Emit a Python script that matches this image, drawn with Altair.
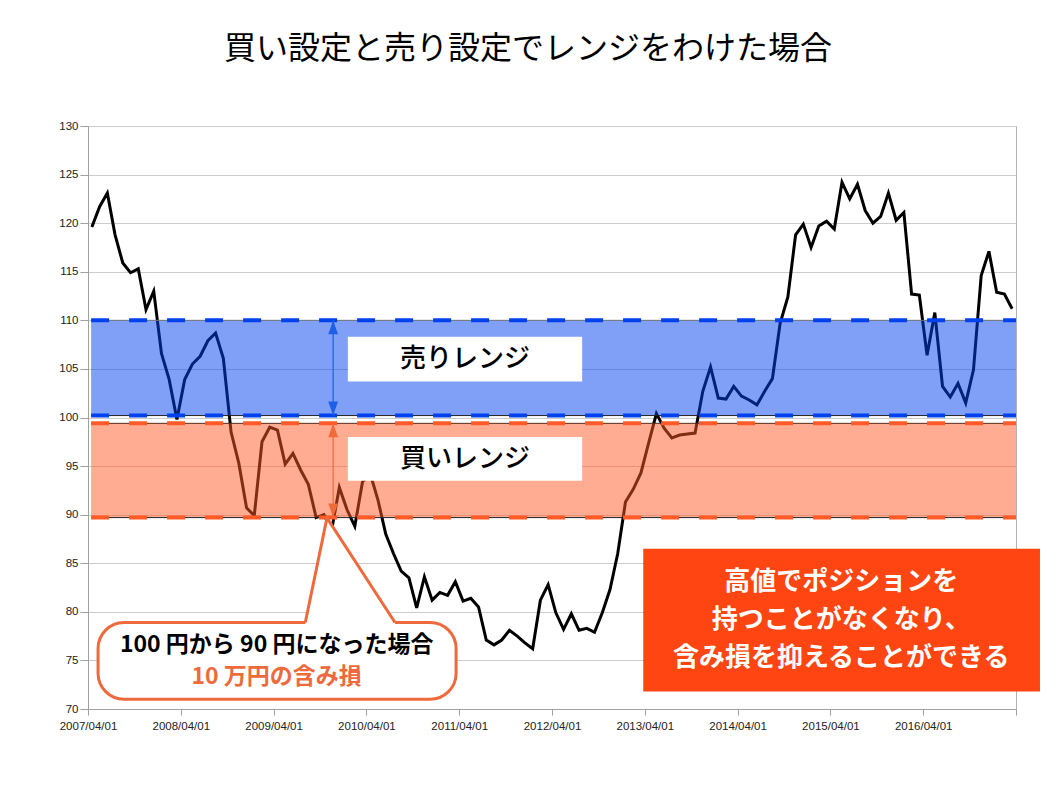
import altair as alt
import pandas as pd

# ---- data (monthly, 2007/04 .. 2017/03) ----
rate = [119.6, 121.7, 123.1, 118.8, 115.9, 114.9, 115.3, 111.1, 113.0, 106.6,
        103.9, 99.8, 103.9, 105.5, 106.3, 107.9, 108.7, 106.1, 98.5, 95.3,
        90.7, 89.9, 97.5, 99.0, 98.7, 95.2, 96.3, 94.6, 93.1, 89.7,
        90.0, 88.4, 92.8, 90.5, 88.8, 93.4, 94.2, 91.5, 88.0, 86.0,
        84.2, 83.5, 80.4, 83.6, 81.2, 82.0, 81.7, 83.1, 81.1, 81.4,
        80.5, 77.1, 76.6, 77.1, 78.1, 77.5, 76.8, 76.2, 81.2, 82.8,
        79.9, 78.2, 79.8, 78.1, 78.3, 77.9, 79.9, 82.3, 86.0, 91.3,
        92.6, 94.3, 97.4, 100.4, 98.9, 97.9, 98.2, 98.3, 98.4, 102.7,
        105.2, 102.0, 101.9, 103.2, 102.2, 101.8, 101.3, 102.7, 104.0, 109.7,
        112.4, 118.8, 119.9, 117.5, 119.7, 120.2, 119.4, 124.2, 122.5, 124.0,
        121.3, 120.0, 120.7, 123.1, 120.3, 121.1, 112.7, 112.6, 106.4, 110.8,
        103.2, 102.1, 103.5, 101.5, 104.9, 114.6, 117.1, 112.9, 112.7, 111.2]
tick_labels = ["2007/04/01", "2008/04/01", "2009/04/01", "2010/04/01", "2011/04/01",
               "2012/04/01", "2013/04/01", "2014/04/01", "2015/04/01", "2016/04/01", ""]
sell_range = [100.2, 110.0]
buy_range = [89.7, 99.4]
title_text = "買い設定と売り設定でレンジをわけた場合"
sell_label = "売りレンジ"
buy_label = "買いレンジ"
callout_lines = ["100 円から 90 円になった場合", "10 万円の含み損"]
note_lines = ["高値でポジションを", "持つことがなくなり、", "含み損を抑えることができる"]

JP = "Noto Sans CJK JP"
N = len(rate)
df = pd.DataFrame({"idx": [i + 0.5 for i in range(N)], "rate": rate})

xs = alt.Scale(domain=[0, N], nice=False, zero=False)
ys = alt.Scale(domain=[70, 130], nice=False, zero=False)
label_expr = "[" + ",".join("'%s'" % t for t in tick_labels) + "][round(datum.value/12)]"
X = lambda f: alt.X(f, scale=xs, axis=alt.Axis(values=list(range(0, N + 1, 12)), labelExpr=label_expr,
                                               title=None, grid=False, labelFlush=False,
                                               labelPadding=5, labelFontSize=11.5))
Y = lambda f: alt.Y(f, scale=ys, axis=alt.Axis(values=list(range(70, 131, 5)), title=None, grid=True,
                                               labelFontSize=11.5, tickSize=8))

line = alt.Chart(df).mark_line(color="black", strokeWidth=3).encode(x=X("idx:Q"), y=Y("rate:Q"))

bands = pd.DataFrame({"x0": [0.4, 0.4], "x1": [N, N],
                      "lo": [sell_range[0], buy_range[0]], "hi": [sell_range[1], buy_range[1]],
                      "kind": ["sell", "buy"]})
band_rect = alt.Chart(bands).mark_rect(opacity=0.5).encode(
    x="x0:Q", x2="x1:Q", y="lo:Q", y2="hi:Q",
    color=alt.Color("kind:N", scale=alt.Scale(domain=["sell", "buy"], range=["#0042ee", "#ff5a28"]), legend=None))

edges = pd.DataFrame({"x0": [0.4] * 4, "x1": [N] * 4,
                      "y": [sell_range[1], sell_range[0], buy_range[1], buy_range[0]],
                      "kind": ["sell", "sell", "buy", "buy"],
                      "thin": ["#777777", "#222222", "#5a2a1a", "#222222"]})
edge_thin = alt.Chart(edges).mark_rule(strokeWidth=1).encode(
    x="x0:Q", x2="x1:Q", y="y:Q", color=alt.Color("thin:N", scale=None))
edge_dash = alt.Chart(edges).mark_rule(strokeWidth=4, strokeDash=[18, 20]).encode(
    x="x0:Q", x2="x1:Q", y="y:Q",
    color=alt.Color("kind:N", scale=alt.Scale(domain=["sell", "buy"], range=["#0c46d6", "#c04a1e"]), legend=None))

# label boxes
lbl = pd.DataFrame({"x0": [33.6, 33.6], "x1": [63.9, 63.9], "lo": [103.7, 93.5], "hi": [108.3, 98.0],
                    "tx": [48.75, 48.75], "ty": [106.0, 95.75], "t": [sell_label, buy_label]})
lbl_box = alt.Chart(lbl).mark_rect(color="white").encode(x="x0:Q", x2="x1:Q", y="lo:Q", y2="hi:Q")
lbl_txt = alt.Chart(lbl).mark_text(font=JP, fontSize=26, color="black", fontWeight=500).encode(
    x="tx:Q", y="ty:Q", text="t:N")

# arrows
arr = pd.DataFrame({"x": [31.7, 31.7], "lo": [sell_range[0], buy_range[0]], "hi": [sell_range[1], buy_range[1]],
                    "c": ["#1f5fe8", "#f06a3a"]})
arr_shaft = alt.Chart(arr).mark_rule(strokeWidth=1.2).encode(
    x="x:Q", y="lo:Q", y2="hi:Q", color=alt.Color("c:N", scale=None))
heads = pd.DataFrame({"x": [31.7] * 4,
                      "y": [sell_range[1] - 0.72, sell_range[0] + 0.72, buy_range[1] - 0.72, buy_range[0] + 0.72],
                      "dir": ["up", "down", "up", "down"],
                      "c": ["#1f5fe8", "#1f5fe8", "#f06a3a", "#f06a3a"]})
up_path = "M0,-1L0.7,1L-0.7,1Z"
down_path = "M0,1L0.7,-1L-0.7,-1Z"
head_up = alt.Chart(heads).transform_filter("datum.dir=='up'").mark_point(
    shape=up_path, size=196, filled=True, opacity=1).encode(x="x:Q", y="y:Q", color=alt.Color("c:N", scale=None))
head_dn = alt.Chart(heads).transform_filter("datum.dir=='down'").mark_point(
    shape=down_path, size=196, filled=True, opacity=1).encode(x="x:Q", y="y:Q", color=alt.Color("c:N", scale=None))

# callout
OR = "#ee6a3c"
cbox = pd.DataFrame({"x0": [1.3], "x1": [47.6], "lo": [71.0], "hi": [78.9]})
callout_box = alt.Chart(cbox).mark_rect(fill="white", stroke=OR, strokeWidth=3, cornerRadius=26).encode(
    x="x0:Q", x2="x1:Q", y="lo:Q", y2="hi:Q")
ptr = pd.DataFrame({"x": [28.1, 30.9, 39.7], "y": [78.9, 89.67, 78.9], "y2": [78.6, 78.6, 78.6], "o": [0, 1, 2]})
ptr_fill = alt.Chart(ptr).mark_area(color="white", opacity=1).encode(x="x:Q", y="y:Q", y2="y2:Q")
ptr_line = alt.Chart(ptr).mark_line(color=OR, strokeWidth=3, strokeJoin="miter").encode(
    x="x:Q", y="y:Q", order="o:Q")
ctext = pd.DataFrame({"x": [24.4, 24.4], "y": [76.6, 73.3], "t": callout_lines, "c": ["black", OR]})
callout_txt = alt.Chart(ctext).mark_text(font=JP, fontSize=23, fontWeight="bold").encode(
    x="x:Q", y="y:Q", text="t:N", color=alt.Color("c:N", scale=None))

# note box
nbox = pd.DataFrame({"x0": [71.8], "x1": [123.1], "lo": [71.8], "hi": [86.5]})
note_box = alt.Chart(nbox).mark_rect(color="#ff4512").encode(x="x0:Q", x2="x1:Q", y="lo:Q", y2="hi:Q")
ntext = pd.DataFrame({"x": [97.4] * 3, "y": [83.1, 79.2, 75.3], "t": note_lines})
note_txt = alt.Chart(ntext).mark_text(font=JP, fontSize=26, fontWeight="bold", color="white").encode(
    x="x:Q", y="y:Q", text="t:N")

chart = alt.layer(
    line, band_rect, edge_thin, edge_dash, lbl_box, lbl_txt, arr_shaft, head_up, head_dn,
    callout_box, ptr_fill, ptr_line, callout_txt, note_box, note_txt
).properties(
    width=928, height=583,
    autosize=alt.AutoSizeParams(type="none"),
    padding={"left": 80, "top": 118, "right": 34, "bottom": 60},
    title=alt.TitleParams(title_text, font=JP, fontSize=32, fontWeight="normal", color="black",
                          anchor="middle", dx=-24, offset=54),
).configure_view(stroke="#b4b4b4").configure_axis(
    labelFont="Liberation Sans", labelColor="#222222",
    domainColor="#a0a0a0", tickColor="#a0a0a0", gridColor="#cccccc", tickSize=6
)

chart.save("out.html", embed_options={"renderer": "svg", "actions": False})
